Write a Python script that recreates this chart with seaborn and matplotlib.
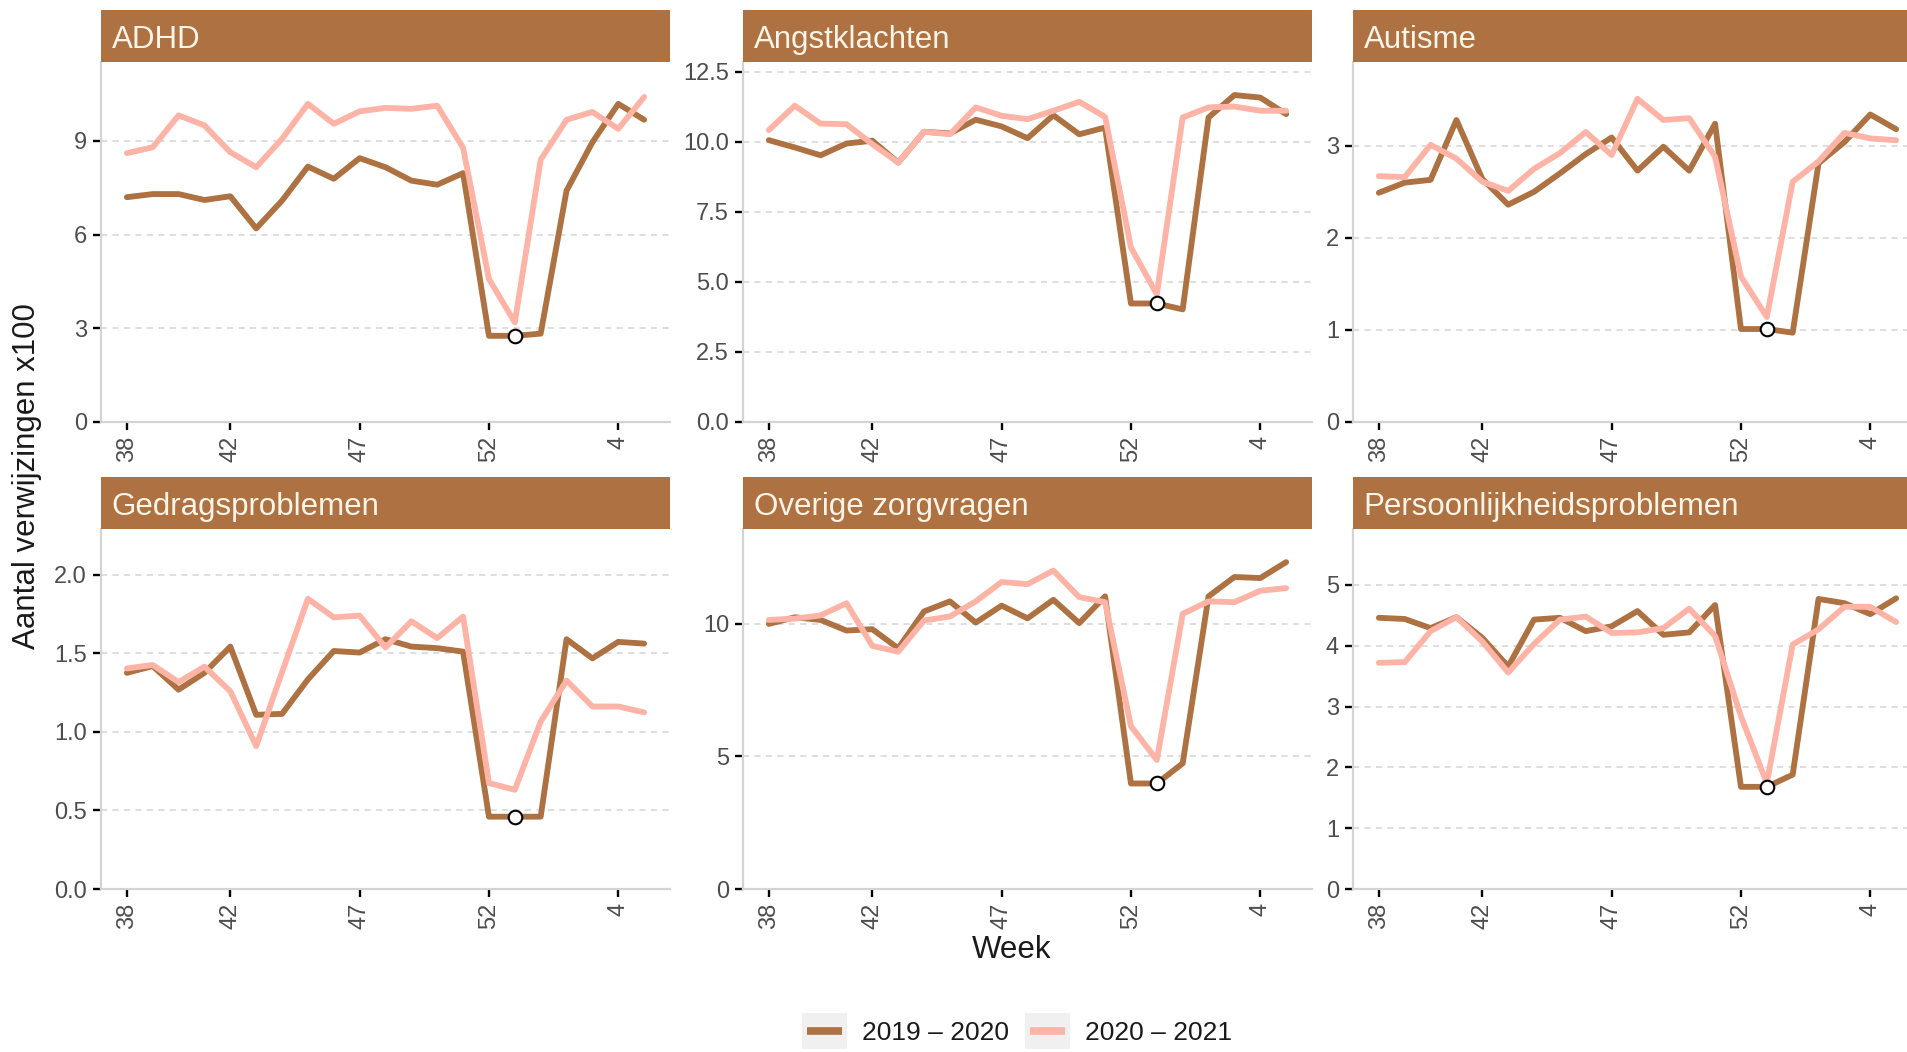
import matplotlib
matplotlib.use("Agg")
import numpy as np
import pandas as pd
import seaborn as sns
import matplotlib.pyplot as plt
from matplotlib.lines import Line2D
from matplotlib.patches import Rectangle
from matplotlib.legend_handler import HandlerBase

# ---------------- data ----------------
week_labels = ["38", "39", "40", "41", "42", "43", "44", "45", "46", "47", "48",
               "49", "50", "51", "52", "53", "1", "2", "3", "4", "5"]
tick_weeks = ["38", "42", "47", "52", "4"]
periods = ["2019 – 2020", "2020 – 2021"]
categories = ["ADHD", "Angstklachten", "Autisme",
              "Gedragsproblemen", "Overige zorgvragen", "Persoonlijkheidsproblemen"]

adhd_1920 = [7.20, 7.30, 7.30, 7.11, 7.23, 6.20, 7.09, 8.18, 7.79, 8.45, 8.16,
             7.73, 7.60, 7.97, 2.76, 2.76, 2.83, 7.41, 8.96, 10.19, 9.68]
adhd_2021 = [8.61, 8.80, 9.82, 9.50, 8.64, 8.16, 9.07, 10.19, 9.55, 9.95, 10.06,
             10.03, 10.13, 8.78, 4.58, 3.19, 8.40, 9.68, 9.93, 9.39, 10.41]

angst_1920 = [10.06, 9.80, 9.52, 9.94, 10.04, 9.26, 10.36, 10.30, 10.79, 10.55, 10.13,
              10.95, 10.27, 10.51, 4.23, 4.23, 4.02, 10.87, 11.67, 11.58, 10.99]
angst_2021 = [10.42, 11.29, 10.65, 10.63, 9.92, 9.26, 10.36, 10.27, 11.23, 10.93, 10.81,
              11.11, 11.43, 10.89, 6.23, 4.56, 10.87, 11.23, 11.26, 11.11, 11.11]

autisme_1920 = [2.49, 2.60, 2.63, 3.28, 2.64, 2.36, 2.50, 2.70, 2.91, 3.09, 2.73,
                2.99, 2.73, 3.24, 1.01, 1.01, 0.97, 2.81, 3.04, 3.34, 3.18]
autisme_2021 = [2.67, 2.66, 3.01, 2.86, 2.61, 2.51, 2.75, 2.92, 3.15, 2.90, 3.51,
                3.28, 3.30, 2.88, 1.58, 1.14, 2.61, 2.83, 3.14, 3.08, 3.06]

gedrag_1920 = [1.375, 1.418, 1.268, 1.375, 1.542, 1.108, 1.114, 1.333, 1.514, 1.504, 1.589,
               1.542, 1.532, 1.510, 0.460, 0.460, 0.460, 1.589, 1.467, 1.572, 1.561]
gedrag_2021 = [1.403, 1.425, 1.316, 1.414, 1.258, 0.909, 1.380, 1.846, 1.728, 1.739, 1.536,
               1.703, 1.596, 1.733, 0.674, 0.631, 1.065, 1.326, 1.161, 1.161, 1.123]

overig_1920 = [10.00, 10.25, 10.15, 9.75, 9.80, 9.08, 10.47, 10.85, 10.05, 10.69, 10.21,
               10.91, 10.03, 11.04, 3.98, 3.98, 4.74, 11.04, 11.77, 11.73, 12.33]
overig_2021 = [10.15, 10.20, 10.32, 10.78, 9.17, 8.95, 10.13, 10.28, 10.85, 11.58, 11.50,
               12.01, 11.01, 10.82, 6.14, 4.87, 10.38, 10.85, 10.82, 11.25, 11.35]

pers_1920 = [4.46, 4.44, 4.29, 4.47, 4.13, 3.66, 4.43, 4.46, 4.24, 4.32, 4.57,
             4.18, 4.22, 4.67, 1.68, 1.68, 1.88, 4.77, 4.70, 4.52, 4.78]
pers_2021 = [3.72, 3.73, 4.24, 4.47, 4.07, 3.56, 4.03, 4.43, 4.48, 4.21, 4.22,
             4.29, 4.61, 4.16, 2.84, 1.74, 4.02, 4.27, 4.64, 4.64, 4.39]

yticks = {
    "ADHD": [0, 3, 6, 9],
    "Angstklachten": [0.0, 2.5, 5.0, 7.5, 10.0, 12.5],
    "Autisme": [0, 1, 2, 3],
    "Gedragsproblemen": [0.0, 0.5, 1.0, 1.5, 2.0],
    "Overige zorgvragen": [0, 5, 10],
    "Persoonlijkheidsproblemen": [0, 1, 2, 3, 4, 5],
}
# upper y-axis limits
y_upper = {
    "ADHD": 11.53,
    "Angstklachten": 12.85,
    "Autisme": 3.91,
    "Gedragsproblemen": 2.29,
    "Overige zorgvragen": 13.58,
    "Persoonlijkheidsproblemen": 5.92,
}
highlight_week = "53"

series = {
    "ADHD": (adhd_1920, adhd_2021),
    "Angstklachten": (angst_1920, angst_2021),
    "Autisme": (autisme_1920, autisme_2021),
    "Gedragsproblemen": (gedrag_1920, gedrag_2021),
    "Overige zorgvragen": (overig_1920, overig_2021),
    "Persoonlijkheidsproblemen": (pers_1920, pers_2021),
}

rows = []
for cat in categories:
    for per, vals in zip(periods, series[cat]):
        for i, v in enumerate(vals):
            rows.append({"categorie": cat, "periode": per, "pos": i,
                         "week": week_labels[i], "waarde": v})
df = pd.DataFrame(rows)

# ---------------- style ----------------
BROWN = "#AD7142"
PINK = "#FDB4A6"
palette = {periods[0]: BROWN, periods[1]: PINK}

sns.set_theme(style="white")
plt.rcParams["font.family"] = ["Liberation Sans", "DejaVu Sans"]

W, H = 1908, 1052
fig = plt.figure(figsize=(W / 100, H / 100), dpi=100)

col_left = [101, 743, 1353]
panel_w = 569
row_top = [62, 529]      # top of plot area (below strip)
panel_h = 360
strip_h = 52

tick_pos = [week_labels.index(w) for w in tick_weeks]

for k, cat in enumerate(categories):
    r, c = divmod(k, 3)
    l = col_left[c] / W
    b = 1 - (row_top[r] + panel_h) / H
    ax = fig.add_axes([l, b, panel_w / W, panel_h / H])
    sub = df[df["categorie"] == cat]
    sns.lineplot(data=sub, x="pos", y="waarde", hue="periode", hue_order=periods,
                 palette=palette, linewidth=4.2, estimator=None, sort=False,
                 legend=False, ax=ax)
    hl = sub[(sub["periode"] == periods[0]) & (sub["week"] == highlight_week)]
    sns.scatterplot(data=hl, x="pos", y="waarde", color="white", edgecolor="black",
                    linewidth=1.5, s=95, zorder=5, legend=False, ax=ax)
    ax.set_xlim(-1, len(week_labels))
    ax.set_ylim(0, y_upper[cat])
    yt = yticks[cat]
    ax.set_yticks(yt)
    if any(abs(t - round(t)) > 1e-9 for t in yt):
        ax.set_yticklabels([f"{t:.1f}" for t in yt])
    else:
        ax.set_yticklabels([f"{int(t)}" for t in yt])
    ax.set_xticks(tick_pos)
    ax.set_xticklabels(tick_weeks, rotation=90)
    ax.set_xlabel("")
    ax.set_ylabel("")
    ax.grid(False)
    ax.yaxis.grid(True, linestyle=(0, (4, 3.5)), color="#D4D4D4", linewidth=1.1)
    ax.set_axisbelow(True)
    for s in ["top", "right"]:
        ax.spines[s].set_visible(False)
    for s in ["left", "bottom"]:
        ax.spines[s].set_color("#D3D3D3")
        ax.spines[s].set_linewidth(1.6)
    ax.tick_params(axis="both", which="major", direction="out", length=6, width=1.7,
                   color="black", labelsize=17, labelcolor="#4D4D4D", pad=4,
                   bottom=True, left=True)
    # strip
    sax = fig.add_axes([l, 1 - row_top[r] / H, panel_w / W, strip_h / H])
    sax.set_facecolor(BROWN)
    sax.set_xticks([])
    sax.set_yticks([])
    for s in sax.spines.values():
        s.set_visible(False)
    sax.text(0.019, 0.27, cat, transform=sax.transAxes, ha="left", va="baseline",
             fontsize=22.5, color="#FFF4E8")

fig.text(27 / W, 1 - 476 / H, "Aantal verwijzingen x100", rotation=90,
         ha="center", va="center", fontsize=22.5, color="#1A1A1A")
fig.text(1012 / W, 1 - 950 / H, "Week", ha="center", va="center",
         fontsize=22.5, color="#1A1A1A")


class KeyHandler(HandlerBase):
    def create_artists(self, legend, orig_handle, xdescent, ydescent, width, height,
                       fontsize, trans):
        rect = Rectangle((-xdescent, -ydescent), width, height, facecolor="#F0F0F0",
                         edgecolor="none", transform=trans)
        y = -ydescent + height / 2
        line = Line2D([-xdescent + 0.1 * width, -xdescent + 0.9 * width], [y, y],
                      color=orig_handle.get_color(), linewidth=5.5,
                      solid_capstyle="butt", transform=trans)
        return [rect, line]


handles = [Line2D([], [], color=palette[p]) for p in periods]
fig.legend(handles, periods, loc="center", bbox_to_anchor=(1017 / W, 1 - 1031 / H),
           ncol=2, frameon=False, fontsize=19, handlelength=1.67, handleheight=1.67,
           handletextpad=0.57, columnspacing=0.64, labelcolor="#1A1A1A",
           handler_map={Line2D: KeyHandler()})

fig.savefig("out.png", dpi=100)
